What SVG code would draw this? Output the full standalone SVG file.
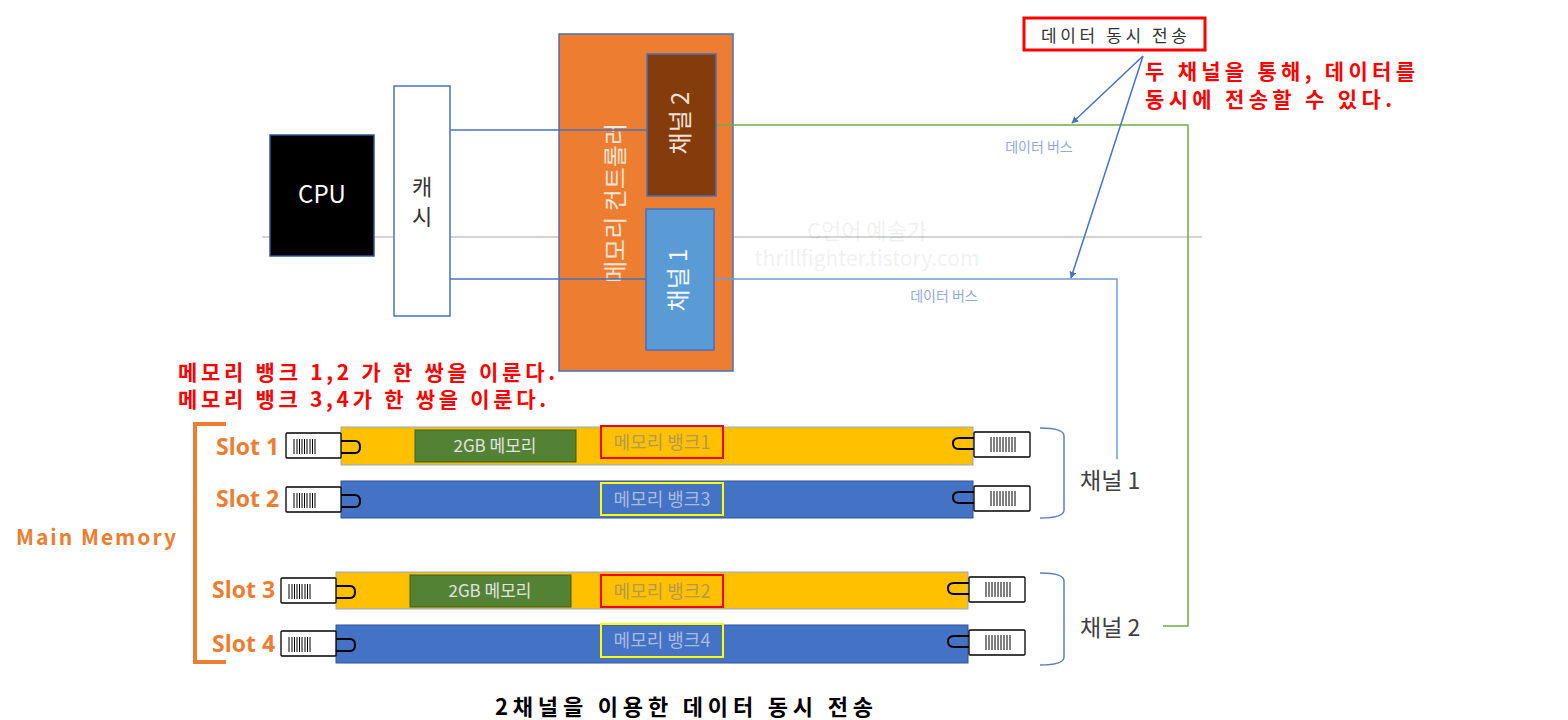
<svg xmlns="http://www.w3.org/2000/svg" width="1568" height="720" viewBox="0 0 1568 720">
<style>
text{font-family:"Noto Sans CJK KR","Noto Sans",sans-serif}
.red{fill:#FF0000;font-weight:bold;font-size:21px}
.slot{fill:#ED7D31;font-weight:bold;font-size:23px;font-family:"Open Sans","Noto Sans CJK KR",sans-serif}
.bus{fill:#8FAADC;font-size:14px}
.wire{fill:none;stroke:#4472C4;stroke-width:1.5}
.conn{fill:#fff;stroke:#000;stroke-width:1.3}
.tab{fill:none;stroke:#000;stroke-width:2}
.bar{stroke:#000;stroke-width:1}
.bankY{fill:#B39A4E;font-size:18px}
.bankB{fill:#A9BCE0;font-size:18px}
.gb{fill:#E2E2E2;font-size:17px}
.br{fill:none;stroke:#5B7FC8;stroke-width:1.5}
.ch{fill:#404040;font-size:23px}
</style>
<defs>
<marker id="ah" viewBox="0 0 10 10" refX="9" refY="5" markerWidth="7" markerHeight="7" orient="auto" markerUnits="userSpaceOnUse">
<path d="M0,0 L10,5 L0,10 z" fill="#4472C4"/>
</marker>
<g id="connL">
<rect class="conn" x="-55" y="6" width="55" height="25" rx="1"/>
<path class="bar" d="M-47,12v15M-44,12v15M-41.5,12v15M-39,12v15M-36.5,12v15M-34,12v15M-31,12v15M-28.5,12v15M-26,12v15"/>
<path class="tab" d="M0,14H14Q19,14 19,20Q19,26 14,26H0"/>
</g>
<g id="connR">
<rect class="conn" x="1" y="5" width="56" height="25" rx="1"/>
<path class="bar" d="M18,10v15M21,10v15M24,10v15M27,10v15M30,10v15M33,10v15M36,10v15M39,10v15M42,10v15"/>
<path class="tab" d="M1,11H-14Q-20,11 -20,16.5Q-20,22 -14,22H1"/>
</g>
</defs>

<rect width="1568" height="720" fill="#fff"/>
<line x1="262" y1="237" x2="1202" y2="237" stroke="#D4D4D4" stroke-width="2"/>

<g id="watermark" opacity="0.05" fill="#000">
<text x="867" y="239" text-anchor="middle" font-size="22">C언어 예술가</text>
<text x="867" y="266" text-anchor="middle" font-size="21" font-family="Open Sans,sans-serif">thrillfighter.tistory.com</text>
</g>

<g id="cpu">
<rect x="270" y="135" width="104" height="121" fill="#000" stroke="#2F5597" stroke-width="1.5"/>
<text x="322" y="203" text-anchor="middle" fill="#fff" font-size="24" font-family="Open Sans,sans-serif">CPU</text>
</g>

<g id="cache">
<rect x="394" y="86" width="56" height="230" fill="#fff" stroke="#4472C4" stroke-width="1.5"/>
<text x="422" y="195" text-anchor="middle" fill="#333" font-size="22">캐</text>
<text x="422" y="225" text-anchor="middle" fill="#333" font-size="22">시</text>
</g>

<g id="memctrl">
<rect x="559" y="34" width="174" height="337" fill="#ED7D31" stroke="#4472C4" stroke-width="1.5"/>
<text transform="translate(624,203) rotate(-90)" text-anchor="middle" fill="#FBE5D6" font-size="24">메모리 컨트롤러</text>
</g>

<g id="connectors">
<path class="wire" d="M450,130H647"/>
<path class="wire" d="M450,279H646"/>
<path d="M716,125H1188V626H1163" fill="none" stroke="#70AD47" stroke-width="1.5"/>
<path d="M714,279H1117V459" fill="none" stroke="#6F9BD8" stroke-width="1.5"/>
<line x1="1143" y1="56" x2="1072" y2="123" stroke="#4472C4" stroke-width="1.5" marker-end="url(#ah)"/>
<line x1="1143" y1="56" x2="1071" y2="278" stroke="#4472C4" stroke-width="1.5" marker-end="url(#ah)"/>
<text class="bus" x="1039" y="152" text-anchor="middle">데이터 버스</text>
<text class="bus" x="944" y="301" text-anchor="middle">데이터 버스</text>
</g>

<g id="ch2box">
<rect x="647" y="54" width="69" height="142" fill="#843C0C" stroke="#4472C4" stroke-width="1.5"/>
<text transform="translate(689,123) rotate(-90)" text-anchor="middle" fill="#F2E0D8" font-size="24">채널 2</text>
</g>

<g id="ch1box">
<rect x="646" y="209" width="68" height="141" fill="#5B9BD5" stroke="#4472C4" stroke-width="1.5"/>
<text transform="translate(687,280) rotate(-90)" text-anchor="middle" fill="#F0F4FA" font-size="24">채널 1</text>
</g>

<g id="label-simul">
<rect x="1024" y="18" width="181" height="32" fill="#fff" stroke="#FF0000" stroke-width="3"/>
<text x="1114" y="42" text-anchor="middle" fill="#333" font-size="17" textLength="146">데이터 동시 전송</text>
</g>

<g id="note-right">
<text class="red" x="1145" y="79" textLength="270">두 채널을 통해, 데이터를</text>
<text class="red" x="1145" y="107" textLength="247">동시에 전송할 수 있다.</text>
</g>

<g id="note-left">
<text class="red" x="178" y="380" textLength="377">메모리 뱅크 1,2 가 한 쌍을 이룬다.</text>
<text class="red" x="178" y="407" textLength="368">메모리 뱅크 3,4가 한 쌍을 이룬다.</text>
</g>

<g id="mainmem">
<path d="M226,424H195V662H226" fill="none" stroke="#ED7D31" stroke-width="4"/>
<text x="16" y="545" fill="#ED7D31" font-weight="bold" font-size="21" font-family="Open Sans,sans-serif" textLength="160">Main Memory</text>
</g>

<g id="slot1">
<text class="slot" x="216" y="455">Slot 1</text>
<rect x="341" y="427" width="632" height="38" fill="#FFC000" stroke="#8FAADC" stroke-width="1"/>
<use href="#connL" x="341" y="427"/>
<use href="#connR" x="973" y="427"/>
<rect x="415" y="430" width="161" height="32" fill="#548235" stroke="#3B5E2A" stroke-width="1"/>
<text class="gb" x="495" y="452" text-anchor="middle">2GB 메모리</text>
<rect x="601" y="426" width="122" height="32" fill="none" stroke="#FF0000" stroke-width="2"/>
<text class="bankY" x="662" y="449" text-anchor="middle">메모리 뱅크1</text>
</g>

<g id="slot2">
<text class="slot" x="216" y="507">Slot 2</text>
<rect x="341" y="481" width="632" height="37" fill="#4472C4" stroke="#2F5597" stroke-width="1"/>
<use href="#connL" x="341" y="481"/>
<use href="#connR" x="973" y="481"/>
<rect x="601" y="483" width="122" height="32" fill="none" stroke="#FFFF00" stroke-width="2"/>
<text class="bankB" x="662" y="506" text-anchor="middle">메모리 뱅크3</text>
</g>

<g id="slot3">
<text class="slot" x="212" y="598">Slot 3</text>
<rect x="336" y="572" width="632" height="37" fill="#FFC000" stroke="#8FAADC" stroke-width="1"/>
<use href="#connL" x="336" y="572"/>
<use href="#connR" x="968" y="572"/>
<rect x="410" y="575" width="161" height="32" fill="#548235" stroke="#3B5E2A" stroke-width="1"/>
<text class="gb" x="490" y="597" text-anchor="middle">2GB 메모리</text>
<rect x="601" y="575" width="122" height="32" fill="none" stroke="#FF0000" stroke-width="2"/>
<text class="bankY" x="662" y="598" text-anchor="middle">메모리 뱅크2</text>
</g>

<g id="slot4">
<text class="slot" x="212" y="652">Slot 4</text>
<rect x="336" y="625" width="632" height="38" fill="#4472C4" stroke="#2F5597" stroke-width="1"/>
<use href="#connL" x="336" y="625"/>
<use href="#connR" x="968" y="625"/>
<rect x="601" y="624" width="122" height="33" fill="none" stroke="#FFFF00" stroke-width="2"/>
<text class="bankB" x="662" y="647" text-anchor="middle">메모리 뱅크4</text>
</g>

<g id="channel1">
<path class="br" d="M1040,428Q1064,428 1064,436V510Q1064,518 1040,518"/>
<text class="ch" x="1080" y="489">채널 1</text>
</g>

<g id="channel2">
<path class="br" d="M1040,573Q1064,573 1064,581V657Q1064,665 1040,665"/>
<text class="ch" x="1080" y="636">채널 2</text>
</g>

<g id="title">
<text x="684" y="715" text-anchor="middle" fill="#000" font-weight="bold" font-size="22" textLength="378">2채널을 이용한 데이터 동시 전송</text>
</g>
</svg>
